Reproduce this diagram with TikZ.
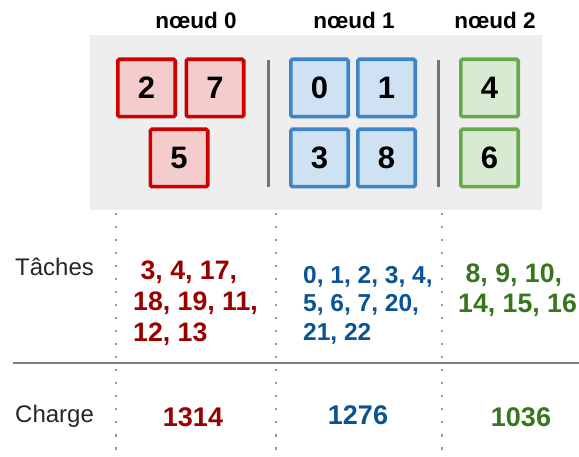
\documentclass[tikz,border=0pt]{standalone}
\usepackage{fontspec}
\setmainfont{Liberation Sans}
\usepackage{xcolor}
\usetikzlibrary{positioning, calc}

\definecolor{panelgray}{HTML}{EEEEEE}
\definecolor{redline}{HTML}{CC0000}
\definecolor{redfill}{HTML}{F4CCCC}
\definecolor{redtext}{HTML}{990000}
\definecolor{blueline}{HTML}{3D85C6}
\definecolor{bluefill}{HTML}{CFE2F3}
\definecolor{bluetext}{HTML}{0B5394}
\definecolor{greenline}{HTML}{6AA84F}
\definecolor{greenfill}{HTML}{D9EAD3}
\definecolor{greentext}{HTML}{38761D}

\begin{document}
\begin{tikzpicture}[x=1pt, y=-1pt,
    procbox/.style={draw, line width=3.6pt, rounded corners=1.5pt, minimum size=57.4pt, inner sep=0pt,
                    font=\fontsize{31}{34}\selectfont\bfseries},
    redbox/.style={procbox, draw=redline, fill=redfill},
    bluebox/.style={procbox, draw=blueline, fill=bluefill},
    greenbox/.style={procbox, draw=greenline, fill=greenfill},
    header/.style={font=\fontsize{22.5}{24}\selectfont\bfseries},
    rowlabel/.style={anchor=west, inner sep=0pt, text=black!85, font=\fontsize{24}{26}\selectfont},
    tasklist/.style={anchor=north west, inner sep=0pt, align=left},
    charge/.style={font=\fontsize{27}{29}\selectfont\bfseries},
    dotline/.style={draw=black!40, line width=2.5pt, dash pattern=on 2.5pt off 10.5pt},
    sepline/.style={draw=black!55, line width=3pt}]
    \useasboundingbox (0,0) rectangle (579,457);

    % panel with the nodes
    \fill[panelgray] (90,35) rectangle (542,210);
    \node[header] (h0) at (196,20) {nœud 0};
    \node[header] (h1) at (354,20) {nœud 1};
    \node[header] (h2) at (495,20) {nœud 2};

    \node[redbox] (r2) at (146.5,88) {2};
    \node[redbox] (r7) at (215,88) {7};
    \node[redbox] (r5) at (179,158) {5};
    \draw[sepline] (268,60) -- (268,187);
    \node[bluebox] (b0) at (319.5,88) {0};
    \node[bluebox] (b1) at (386.5,88) {1};
    \node[bluebox] (b3) at (319.5,158) {3};
    \node[bluebox] (b8) at (386.5,158) {8};
    \draw[sepline] (438,60) -- (438,187);
    \node[greenbox] (g4) at (489.5,88) {4};
    \node[greenbox] (g6) at (489.5,158) {6};

    % table below
    \draw[dotline] (116,213) -- (116,457);
    \draw[dotline] (276,213) -- (276,457);
    \draw[dotline] (442,213) -- (442,457);
    \draw[draw=black!50, line width=2.5pt] (13,363) -- (579,363);

    \node[rowlabel] (taches) at (15,267) {Tâches};
    \node[rowlabel] (chargelbl) at (15,416) {Charge};

    \node[tasklist, text=redtext, font=\fontsize{26.7}{31}\selectfont\bfseries] (t0) at (133,260.5)
        {\hspace*{7.4pt}3, 4, 17,\\18, 19, 11,\\12, 13};
    \node[tasklist, text=bluetext, font=\fontsize{24.5}{28.5}\selectfont\bfseries] (t1) at (303,266)
        {0, 1, 2, 3, 4,\\5, 6, 7, 20,\\21, 22};
    \node[tasklist, text=greentext, font=\fontsize{26.7}{30}\selectfont\bfseries] (t2) at (458,263.5)
        {\hspace*{7.4pt}8, 9, 10,\\14, 15, 16};

    \node[charge, text=redtext] (c0) at (193,417) {1314};
    \node[charge, text=bluetext] (c1) at (358,415) {1276};
    \node[charge, text=greentext] (c2) at (521,417) {1036};
\end{tikzpicture}
\end{document}
